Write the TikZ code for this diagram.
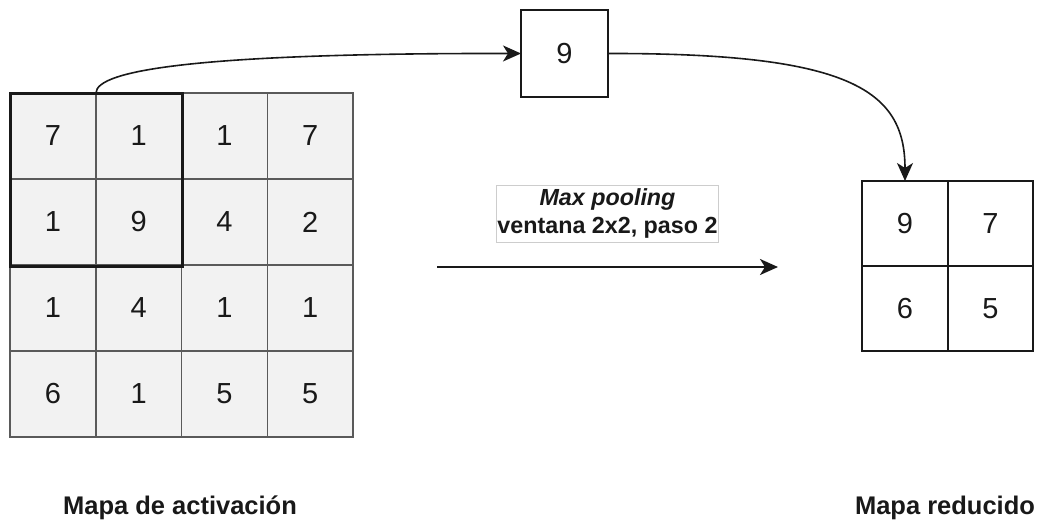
\documentclass[tikz,border=0pt]{standalone}
\usepackage{fontspec}
\setmainfont{Liberation Sans}
\usetikzlibrary{arrows.meta}

\definecolor{cellfill}{RGB}{242,242,242}
\definecolor{cellline}{RGB}{90,90,90}
\definecolor{lblline}{RGB}{205,205,205}
\definecolor{ink}{RGB}{25,25,25}

\tikzset{
  cell/.style={draw=cellline, fill=cellfill, line width=1.5pt,
    minimum width=85.75pt, minimum height=86pt, inner sep=0pt, outer sep=0pt,
    font=\fontsize{29}{32}\selectfont, text=ink},
  rcell/.style={draw=ink, fill=white, line width=1.8pt,
    minimum width=85.5pt, minimum height=85pt, inner sep=0pt, outer sep=0pt,
    font=\fontsize{29}{32}\selectfont, text=ink},
  poolwin/.style={draw=ink, line width=3pt, inner sep=0pt, outer sep=0pt,
    minimum width=172pt, minimum height=173pt},
  link/.style={draw=ink, line width=1.6pt,
    -{Stealth[length=18pt, width=16pt, inset=5pt]}},
  caption/.style={font=\fontsize{25.5}{29}\selectfont\bfseries, text=ink},
}

\begin{document}
\begin{tikzpicture}[x=1pt, y=-1pt]
  \useasboundingbox (0,0) rectangle (1039,525);

  % activation map, 4x4
  \foreach \r/\row in {1/{7,1,1,7}, 2/{1,9,4,2}, 3/{1,4,1,1}, 4/{6,1,5,5}} {
    \foreach \v [count=\c] in \row {
      \node[cell] (a\r\c) at ({10 + 85.75*(\c-0.5)}, {93 + 86*(\r-0.5)}) {\v};
    }
  }

  % highlighted 2x2 pooling window
  \node[poolwin] (win) at (96,179.5) {};

  % selected maximum
  \node[draw=ink, fill=white, line width=1.8pt, minimum width=87pt,
        minimum height=87pt, inner sep=0pt, outer sep=0pt,
        font=\fontsize{29}{32}\selectfont, text=ink] (nine) at (564.5,53.5) {9};

  % reduced map, 2x2
  \node[rcell] (r11) at (905,223.5) {9};
  \node[rcell] (r12) at (990.5,223.5) {7};
  \node[rcell] (r21) at (905,308.5) {6};
  \node[rcell] (r22) at (990.5,308.5) {5};

  % operation label
  \node[draw=lblline, fill=white, line width=1pt, inner sep=1pt,
        minimum width=221pt, minimum height=57pt, align=center,
        font=\fontsize{23.3}{28}\selectfont\bfseries, text=ink]
        (op) at (607.5,213.5) {\itshape Max pooling\\ventana 2x2, paso 2};

  \coordinate (arrS) at (437,267);
  \coordinate (arrE) at (778,267);
  \draw[link, line width=2.2pt] (arrS) -- (arrE);

  % connectors
  \draw[link] (win.north) .. controls (96,70) and (200,53) .. (nine.west);
  \draw[link] (nine.east) .. controls (850,53) and (905,90) .. (r11.north);

  % captions
  \node[caption] (capA) at (180,508) {Mapa de activación};
  \node[caption] (capB) at (945,508) {Mapa reducido};
\end{tikzpicture}
\end{document}
